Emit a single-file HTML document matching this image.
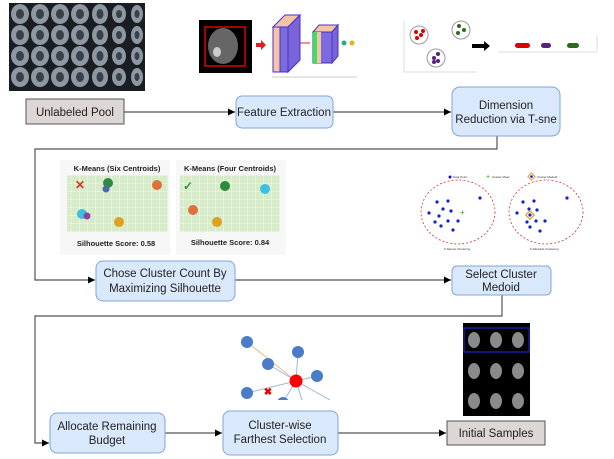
<!DOCTYPE html>
<html><head><style>
html,body{margin:0;padding:0;background:#fff;}
svg{display:block;font-family:"Liberation Sans",sans-serif;}
</style></head><body>
<svg width="614" height="459" viewBox="0 0 614 459" xmlns="http://www.w3.org/2000/svg">
<defs>
<marker id="a" markerWidth="8" markerHeight="8" refX="7" refY="4" orient="auto" markerUnits="userSpaceOnUse"><path d="M0,0.5 L7,4 L0,7.5 Z" fill="#000"/></marker>
<pattern id="g" width="8" height="8" patternUnits="userSpaceOnUse"><rect width="8" height="8" fill="#d6ecc8"/><path d="M8 0V8M0 8H8" stroke="#f2f8ee" stroke-width="1"/></pattern>
<clipPath id="cg"><rect x="230" y="330" width="110" height="70"/></clipPath>
</defs>

<!-- MRI grid -->
<rect x="9" y="3" width="136" height="88" fill="#1a1d22"/>
<g id="row">
<g fill="#8d98a3"><ellipse cx="20" cy="14" rx="9" ry="10"/><ellipse cx="40" cy="14" rx="9" ry="10"/><ellipse cx="60" cy="14" rx="9" ry="10"/><ellipse cx="80" cy="14" rx="9" ry="10"/><ellipse cx="100" cy="14" rx="8" ry="10"/><ellipse cx="119" cy="14" rx="7" ry="9"/><ellipse cx="137" cy="14" rx="6" ry="9"/></g>
<g fill="#3a4048"><ellipse cx="20" cy="14" rx="4" ry="5"/><ellipse cx="40" cy="14" rx="4" ry="5"/><ellipse cx="60" cy="14" rx="4" ry="5"/><ellipse cx="80" cy="14" rx="4" ry="5"/><ellipse cx="100" cy="14" rx="3.5" ry="5"/><ellipse cx="119" cy="14" rx="3" ry="4"/><ellipse cx="137" cy="14" rx="2.5" ry="4"/></g>
</g>
<use href="#row" y="21"/><use href="#row" y="42"/><use href="#row" y="63"/>

<!-- brain scan -->
<rect x="199" y="20" width="53" height="53" fill="#000"/>
<ellipse cx="223" cy="46" rx="15" ry="18" fill="#666"/>
<ellipse cx="217" cy="52" rx="4" ry="5" fill="#ccc"/>
<rect x="205" y="27" width="40" height="39" fill="none" stroke="#d00" stroke-width="1.5"/>
<path d="M256 43h5v-3l5 5-5 5v-3h-5z" fill="#e02020"/>
<!-- CNN -->
<polygon points="273,27 285,15 300,15 288,27" fill="#f3c4a6" stroke="#4a2fd0"/>
<polygon points="288,27 300,15 300,60 288,72" fill="#7a64d8" stroke="#4a2fd0"/>
<rect x="273" y="27" width="15" height="45" fill="#f3c4a6" stroke="#4a2fd0"/>
<rect x="280" y="27" width="8" height="45" fill="#7b6bdc" stroke="#4a2fd0"/>
<line x1="300" y1="43" x2="310" y2="43" stroke="#e02020"/>
<polygon points="313,32 319,25 338,25 332,32" fill="#f3c4a6" stroke="#4a2fd0"/>
<polygon points="332,32 338,25 338,56 332,63" fill="#7a64d8" stroke="#4a2fd0"/>
<rect x="313" y="32" width="19" height="31" fill="#7b6bdc" stroke="#4a2fd0"/>
<rect x="313" y="32" width="4" height="31" fill="#3ee05a"/>
<rect x="317" y="32" width="4" height="31" fill="#f3c4a6"/>
<line x1="272" y1="77" x2="357" y2="77" stroke="#ccc"/>
<circle cx="344" cy="43" r="2.5" fill="#2aa890"/><circle cx="352" cy="43" r="2.5" fill="#e8b020"/>

<!-- cluster plot -->
<path d="M404 20V72H476" fill="none" stroke="#ddd"/>
<circle cx="419" cy="35" r="9" fill="#fff" stroke="#999"/>
<circle cx="416" cy="32" r="2" fill="#d00"/><circle cx="421" cy="35" r="2" fill="#d00"/><circle cx="417" cy="38" r="2" fill="#d00"/><circle cx="423" cy="31" r="2" fill="#d00"/>
<circle cx="461" cy="30" r="9" fill="#fff" stroke="#999"/>
<circle cx="459" cy="26" r="2" fill="#2e6a1e"/><circle cx="464" cy="30" r="2" fill="#2e6a1e"/><circle cx="458" cy="33" r="2" fill="#2e6a1e"/>
<circle cx="436" cy="58" r="9" fill="#fff" stroke="#999"/>
<circle cx="438" cy="54" r="2" fill="#5a2080"/><circle cx="434" cy="58" r="2" fill="#5a2080"/><circle cx="438" cy="61" r="2" fill="#5a2080"/><circle cx="434" cy="62" r="2" fill="#5a2080"/>
<path d="M472 44h12v-3l6 5-6 5v-3h-12z" fill="#000"/>
<path d="M498 52H597V35" fill="none" stroke="#ddd"/>
<rect x="515" y="43" width="15" height="5" rx="2.5" fill="#d00"/>
<rect x="541" y="43" width="10" height="5" rx="2.5" fill="#5a2080"/>
<rect x="567" y="43" width="12" height="5" rx="2.5" fill="#2e6a1e"/>

<!-- connectors -->
<g stroke="#555" stroke-width="1.2" fill="none">
<line x1="124" y1="112" x2="235" y2="112" marker-end="url(#a)"/>
<line x1="333" y1="112" x2="451" y2="112" marker-end="url(#a)"/>
<path d="M497 136V149H35V280H95" marker-end="url(#a)"/>
<line x1="235" y1="280" x2="451" y2="280" marker-end="url(#a)"/>
<path d="M502 295V316H35V443H49" marker-end="url(#a)"/>
<line x1="165" y1="433" x2="222" y2="433" marker-end="url(#a)"/>
<line x1="338" y1="433" x2="446" y2="433" marker-end="url(#a)"/>
</g>

<!-- boxes -->
<g font-size="11.5" fill="#222" text-anchor="middle">
<rect x="26" y="99" width="98" height="25" fill="#dcd6d4" stroke="#555"/>
<text x="75" y="116">Unlabeled Pool</text>
<rect x="236" y="96" width="97" height="32" rx="6" fill="#dae8fc" stroke="#7ea6d8"/>
<text x="284" y="116">Feature Extraction</text>
<rect x="452" y="87" width="108" height="49" rx="8" fill="#dae8fc" stroke="#7ea6d8"/>
<text x="506" y="109">Dimension</text><text x="506" y="123">Reduction via T-sne</text>
<rect x="96" y="261" width="139" height="40" rx="7" fill="#dae8fc" stroke="#7ea6d8"/>
<text x="165" y="277">Chose Cluster Count By</text><text x="165" y="292">Maximizing Silhouette</text>
<rect x="452" y="266" width="99" height="29" rx="5" fill="#dae8fc" stroke="#7ea6d8"/>
<text x="501" y="278">Select Cluster</text><text x="501" y="291">Medoid</text>
<rect x="50" y="413" width="115" height="40" rx="7" fill="#dae8fc" stroke="#7ea6d8"/>
<text x="107" y="430">Allocate Remaining</text><text x="107" y="444">Budget</text>
<rect x="223" y="411" width="115" height="44" rx="7" fill="#dae8fc" stroke="#7ea6d8"/>
<text x="280" y="429">Cluster-wise</text><text x="280" y="443">Farthest Selection</text>
<rect x="447" y="421" width="98" height="24" fill="#dcd6d4" stroke="#555"/>
<text x="496" y="437">Initial Samples</text>
</g>

<!-- K-means panels -->
<rect x="60" y="160" width="226" height="95" fill="#f7f7f7"/>
<rect x="170" y="160" width="6" height="95" fill="#fff"/>
<rect x="67" y="175" width="101" height="57" fill="url(#g)"/>
<rect x="180" y="175" width="100" height="57" fill="url(#g)"/>
<g font-size="7.5" font-weight="bold" fill="#222" text-anchor="middle">
<text x="117" y="171">K-Means (Six Centroids)</text>
<text x="230" y="171">K-Means (Four Centroids)</text>
<text x="116" y="246">Silhouette Score: 0.58</text>
<text x="230" y="245">Silhouette Score: 0.84</text>
</g>
<text x="75" y="189" font-size="12" fill="#e03020" font-weight="bold">✕</text>
<text x="183" y="190" font-size="12" fill="#2a9a2a" font-weight="bold">✓</text>
<g>
<circle cx="108" cy="183" r="5" fill="#2e8a3e"/><circle cx="106" cy="189" r="3.5" fill="#4a6ab0"/>
<circle cx="157" cy="185" r="5" fill="#e0703a"/>
<circle cx="82" cy="214" r="5" fill="#3ac0e0"/><circle cx="87" cy="216" r="3.5" fill="#9040a0"/>
<circle cx="119" cy="222" r="5" fill="#e0a020"/>
<circle cx="225" cy="186" r="5" fill="#2e8a3e"/>
<circle cx="265" cy="189" r="5" fill="#3ac0e0"/>
<circle cx="193" cy="210" r="5" fill="#e0703a"/>
<circle cx="217" cy="222" r="5" fill="#e0a020"/>
</g>

<!-- medoid -->
<g font-size="3" fill="#333">
<circle cx="450" cy="177" r="1.5" fill="#11c"/><text x="453" y="178">Data Point</text>
<text x="486" y="179" font-size="7" fill="#2a2">+</text><text x="492" y="178">Cluster Mean</text>
<rect x="529" y="174" width="5" height="5" transform="rotate(45 531.5 176.5)" fill="none" stroke="#e0a020"/><circle cx="531.5" cy="176.5" r="1.3" fill="#11c"/><text x="537" y="178">Cluster Medoid</text>
<text x="444" y="250">K-Means Clustering</text><text x="530" y="250">K-Medoids Clustering</text>
</g>
<ellipse cx="458" cy="212" rx="37" ry="32" fill="none" stroke="#e03030" stroke-dasharray="2,2" stroke-width="0.8"/>
<ellipse cx="546" cy="212" rx="37" ry="32" fill="none" stroke="#e03030" stroke-dasharray="2,2" stroke-width="0.8"/>
<g fill="#1122cc">
<circle cx="437" cy="202" r="1.6"/><circle cx="448" cy="201" r="1.6"/><circle cx="443" cy="209" r="1.6"/><circle cx="451" cy="211" r="1.6"/><circle cx="429" cy="213" r="1.6"/><circle cx="439" cy="216" r="1.6"/><circle cx="435" cy="222" r="1.6"/><circle cx="448" cy="221" r="1.6"/><circle cx="458" cy="221" r="1.6"/><circle cx="441" cy="226" r="1.6"/><circle cx="453" cy="230" r="1.6"/><circle cx="480" cy="198" r="1.6"/>
<circle cx="523" cy="202" r="1.6"/><circle cx="534" cy="201" r="1.6"/><circle cx="529" cy="209" r="1.6"/><circle cx="537" cy="210" r="1.6"/><circle cx="517" cy="213" r="1.6"/><circle cx="530" cy="215" r="1.6"/><circle cx="527" cy="222" r="1.6"/><circle cx="536" cy="221" r="1.6"/><circle cx="545" cy="221" r="1.6"/><circle cx="530" cy="227" r="1.6"/><circle cx="540" cy="231" r="1.6"/><circle cx="567" cy="198" r="1.6"/>
</g>
<text x="460" y="215" font-size="8" fill="#2a2">+</text>
<rect x="527" y="212" width="6" height="6" transform="rotate(45 530 215)" fill="none" stroke="#e0a020" stroke-width="1.2"/>

<!-- graph -->
<g clip-path="url(#cg)">
<line x1="247" y1="342" x2="296" y2="381" stroke="#f0b890"/>
<g stroke="#9ab8dc"><line x1="298" y1="352" x2="296" y2="381"/><line x1="268" y1="364" x2="296" y2="381"/><line x1="317" y1="376" x2="296" y2="381"/><line x1="247" y1="393" x2="296" y2="381"/><line x1="283" y1="402" x2="296" y2="381"/><line x1="302" y1="400" x2="296" y2="381"/><line x1="330" y1="400" x2="296" y2="381"/></g>
<g fill="#4a7cc8"><circle cx="247" cy="342" r="6"/><circle cx="298" cy="352" r="6"/><circle cx="268" cy="364" r="6"/><circle cx="317" cy="376" r="6"/><circle cx="247" cy="393" r="6"/><circle cx="283" cy="403" r="6"/></g>
<circle cx="296" cy="381" r="6.5" fill="#f00"/>
<text x="268" y="395" font-size="10" font-weight="bold" fill="#e00" text-anchor="middle">✖</text>
</g>

<!-- brain grid -->
<rect x="463" y="323" width="67" height="93" fill="#000"/>
<rect x="464" y="328" width="65" height="24" fill="none" stroke="#2020d0" stroke-width="1.2"/>
<g fill="#8a8a8a">
<ellipse cx="474" cy="340" rx="6" ry="8"/><ellipse cx="496" cy="340" rx="6" ry="8"/><ellipse cx="518" cy="340" rx="6" ry="8"/>
<ellipse cx="474" cy="371" rx="6" ry="8"/><ellipse cx="496" cy="371" rx="6" ry="8"/><ellipse cx="518" cy="371" rx="6" ry="8"/>
<ellipse cx="474" cy="401" rx="6" ry="8"/><ellipse cx="496" cy="401" rx="6" ry="8"/><ellipse cx="518" cy="401" rx="6" ry="8"/>
</g>
</svg>
</body></html>
